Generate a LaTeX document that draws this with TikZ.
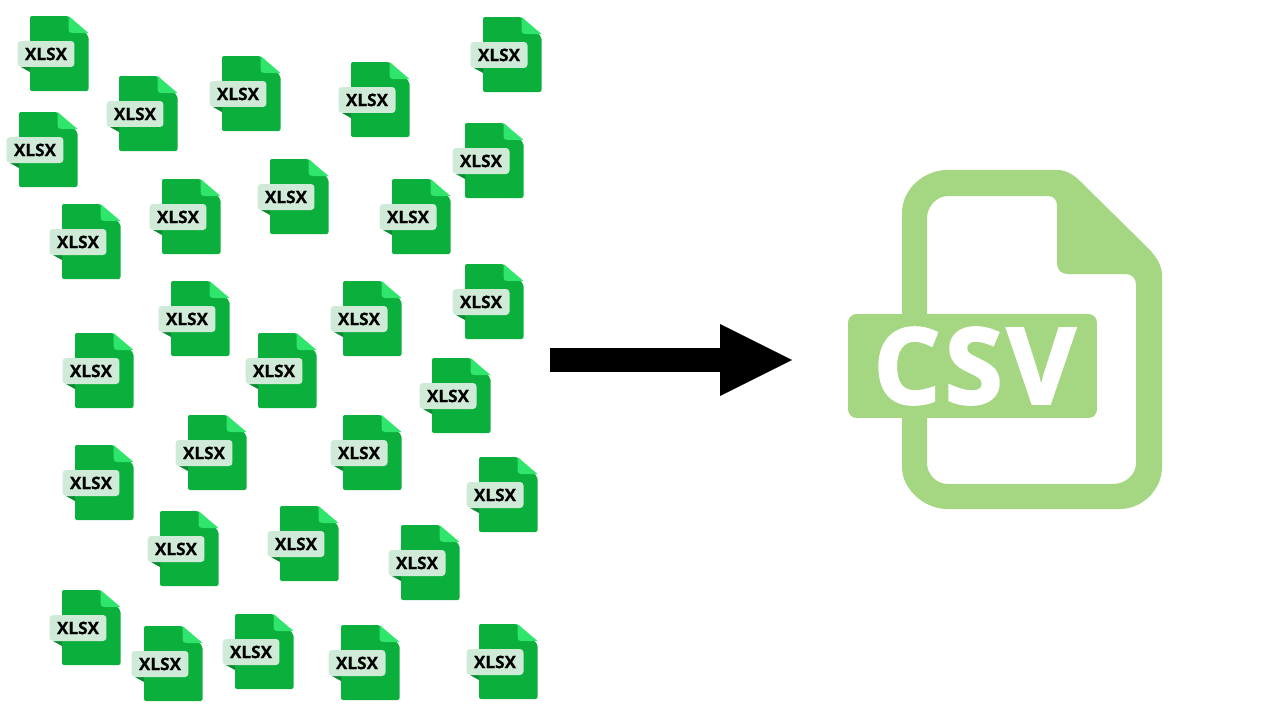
\documentclass[tikz,border=0pt]{standalone}
\usepackage{fontspec}
\setmainfont{Open Sans}
\newfontfamily\csvfont[FakeBold=2.2, LetterSpace=4]{Open Sans}
\newfontfamily\xlsxfont[FakeBold=0.4]{Open Sans}
\usetikzlibrary{arrows.meta}
\definecolor{xlsxbody}{HTML}{0BAF3C}
\definecolor{xlsxfold}{HTML}{2FE56B}
\definecolor{xlsxflap}{HTML}{0A8A32}
\definecolor{xlsxtag}{HTML}{CFEBD8}
\definecolor{csvgreen}{HTML}{A5D783}
\tikzset{
    xlsxtext/.style={rectangle, fill=xlsxtag, rounded corners=0.07cm, minimum width=1.14cm, minimum height=0.52cm, inner sep=0pt, text=black, font=\fontsize{9.8}{10}\selectfont\bfseries\xlsxfont},
    csvtag/.style={rectangle, fill=csvgreen, rounded corners=0.17cm, minimum width=4.98cm, minimum height=2.08cm, inner sep=0pt, text=white, font=\fontsize{60}{60}\selectfont\bfseries\csvfont},
    xlsxfile/.pic={
        \fill[xlsxbody, rounded corners=0.04cm] (-16,-38) -- (22.5,-38) -- (42.5,-18) -- (42.5,37) -- (-16,37) -- cycle;
        \fill[xlsxflap] (-25,13) -- (-16,13) -- (-16,18) -- cycle;
        \fill[xlsxfold] (22.5,-38) -- (22.5,-25) .. controls (22.5,-22) and (23.5,-21) .. (26.5,-21) -- (42.5,-21) -- cycle;
        \node[xlsxtext] (-tag) at (0,0) {XLSX};
    }
}
\begin{document}
\begin{tikzpicture}[x=0.02cm, y=-0.02cm]
    \useasboundingbox (0,0) rectangle (1280,720);
    % xlsx files
    \foreach \px/\py [count=\i] in {46/54, 135/114, 238/94, 367/100, 499/55, 35/150, 481/161, 178/217, 286/197, 408/217,
        78/242, 187/319, 359/319, 481/302, 91/371, 274/371, 448/396, 204/453, 359/453, 91/483,
        495/495, 176/549, 296/544, 417/563, 78/628, 160/664, 251/652, 357/663, 495/662}
        \pic (file\i) at (\px,\py) {xlsxfile};
    % arrow
    \coordinate (arrowstart) at (550,360);
    \coordinate (arrowend) at (792,360);
    \draw[line width=0.48cm, -{Triangle[length=1.44cm, width=1.44cm, line width=0pt]}] (arrowstart) -- (arrowend);
    % csv file
    \fill[csvgreen, even odd rule] (902,213) .. controls (902,188) and (925,170) .. (947,170) -- (1058,170)
        .. controls (1065,170) and (1073,174) .. (1080,181) -- (1150,250)
        .. controls (1157,258) and (1162,266) .. (1162,275) -- (1162,467)
        .. controls (1162,490) and (1142,509) .. (1120,509) -- (947,509)
        .. controls (925,509) and (902,490) .. (902,467) -- cycle
        (927,218) .. controls (927,206) and (937,196) .. (948,196) -- (1048,196)
        .. controls (1054,196) and (1057,200) .. (1057,206) -- (1057,263)
        .. controls (1057,270) and (1061,274) .. (1068,274) -- (1125,274)
        .. controls (1132,274) and (1136,278) .. (1136,285) -- (1136,463)
        .. controls (1136,475) and (1125,484) .. (1113,484) -- (948,484)
        .. controls (937,484) and (927,475) .. (927,463) -- cycle;
    \node[csvtag] (csvlabel) at (972.5,366) {\hspace*{0.08cm}CSV};
\end{tikzpicture}
\end{document}
